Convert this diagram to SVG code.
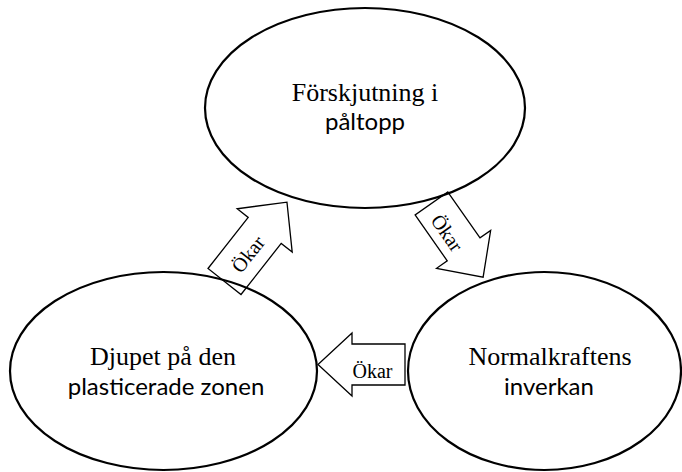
<svg xmlns="http://www.w3.org/2000/svg" width="682" height="472" viewBox="0 0 682 472">
<style>
.node{fill:none;stroke:#000;stroke-width:2.2}
.arr{fill:none;stroke:#000;stroke-width:1.3;stroke-linejoin:miter}
.serif{font-family:"Liberation Serif","Times New Roman",serif;fill:#000;font-size:26px}
.sans{font-family:Lato,"Liberation Sans",sans-serif;fill:#000;font-size:24px}
.small{font-size:20px}
</style>
<rect width="682" height="472" fill="#fff"/>
<g id="node-top">
<ellipse class="node" cx="365" cy="108" rx="160" ry="100"/>
<text class="serif" x="365" y="100.5" text-anchor="middle">Förskjutning i</text>
<text class="sans" x="365" y="130" text-anchor="middle">påltopp</text>
</g>
<g id="node-left">
<ellipse class="node" cx="163.5" cy="371" rx="153.5" ry="99"/>
<text class="serif" x="163" y="365" text-anchor="middle">Djupet på den</text>
<text class="sans" x="166" y="395" text-anchor="middle">plasticerade zonen</text>
</g>
<g id="node-right">
<ellipse class="node" cx="544.5" cy="371" rx="136.5" ry="99"/>
<text class="serif" x="550" y="365" text-anchor="middle">Normalkraftens</text>
<text class="sans" x="549" y="395" text-anchor="middle">inverkan</text>
</g>
<g id="connectors">
<g transform="translate(224.5,281.5) rotate(-51.8)">
<polygon class="arr" points="0,-21 65,-21 65,-35 101,0 65,35 65,21 0,21"/>
<text class="serif small" x="36" y="8.5" text-anchor="middle">Ökar</text>
</g>
<g transform="translate(431.5,203.5) rotate(55)">
<polygon class="arr" points="0,-20 56,-20 56,-33 90,0 56,33 56,20 0,20"/>
<text class="serif small" x="33" y="11" text-anchor="middle">Ökar</text>
</g>
<g transform="translate(405,364.5) rotate(180)">
<polygon class="arr" points="0,-20.5 53,-20.5 53,-31.5 87,0 53,31.5 53,20.5 0,20.5"/>
</g>
<text class="serif small" x="372.5" y="378" text-anchor="middle">Ökar</text>
</g>
</svg>
